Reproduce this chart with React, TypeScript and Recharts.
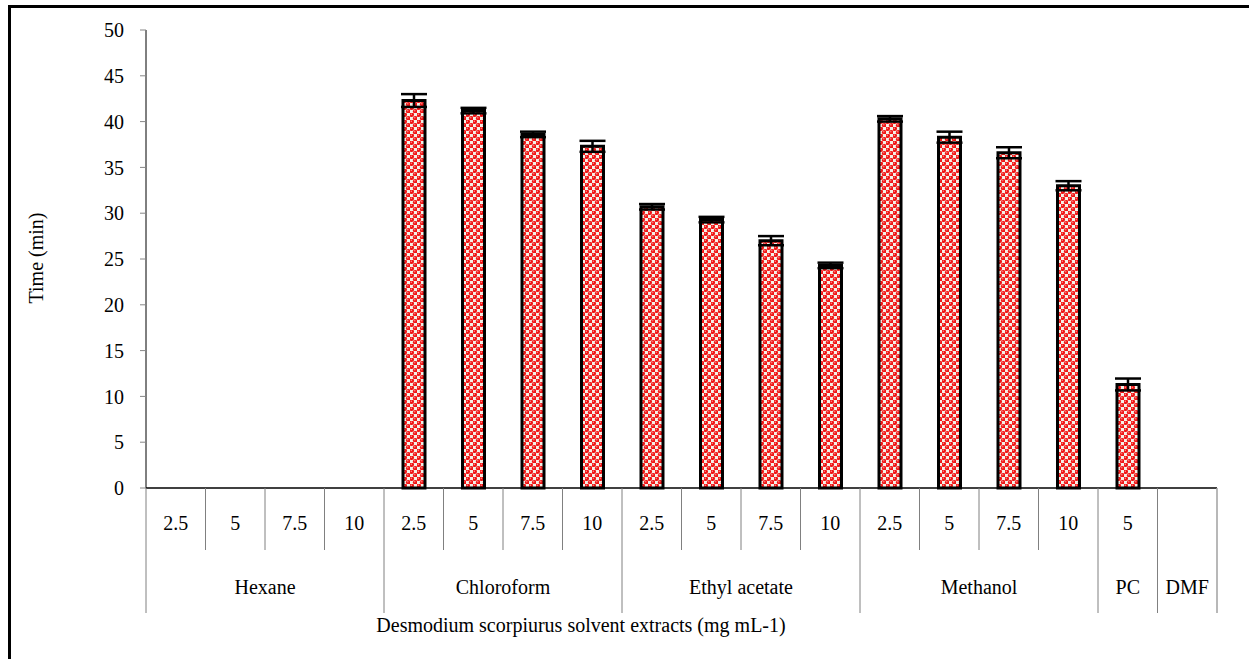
import { BarChart, Bar, XAxis, YAxis, ErrorBar } from "recharts"

const groups = ["Hexane", "Chloroform", "Ethyl acetate", "Methanol", "PC", "DMF"]
const groupSizes = [4, 4, 4, 4, 1, 1]
const concentrations = [
  "2.5", "5", "7.5", "10",
  "2.5", "5", "7.5", "10",
  "2.5", "5", "7.5", "10",
  "2.5", "5", "7.5", "10",
  "5", "",
]
const times = [
  null, null, null, null,
  42.3, 41.2, 38.6, 37.3,
  30.7, 29.3, 27.0, 24.3,
  40.3, 38.3, 36.6, 33.0,
  11.3, null,
]
const errors = [
  null, null, null, null,
  0.7, 0.3, 0.3, 0.6,
  0.3, 0.3, 0.5, 0.3,
  0.3, 0.6, 0.6, 0.5,
  0.65, null,
]
const yTicks = [0, 5, 10, 15, 20, 25, 30, 35, 40, 45, 50]

const data = concentrations.map((c, i) => ({ id: i, conc: c, time: times[i], err: errors[i] }))

const W = 1238
const H = 651
const margin = { top: 22, right: 32, left: 0, bottom: 0 }
const yAxisW = 135
const xAxisH = 171
const plotW = W - margin.right - yAxisW
const band = plotW / concentrations.length

const groupStarts: number[] = []
groupSizes.reduce((acc, s) => {
  groupStarts.push(acc)
  return acc + s
}, 0)

const font = '"Liberation Serif", "Times New Roman", serif'
const fs = 20

function CategoryTick(props: any) {
  const { x, y, payload } = props
  const i = Number(payload.value)
  const left = x - band / 2
  const g = groupStarts.indexOf(i)
  const last = i === concentrations.length - 1
  return (
    <g>
      <line x1={left} x2={left} y1={y} y2={y + (g >= 0 ? 125 : 62)} stroke="#808080" strokeWidth={1} />
      {last && (
        <line x1={left + band} x2={left + band} y1={y} y2={y + 125} stroke="#a0a0a0" strokeWidth={1.5} />
      )}
      <text x={x} y={y + 35} textAnchor="middle" dominantBaseline="central" fontSize={fs} fill="#000">
        {concentrations[i]}
      </text>
      {g >= 0 && (
        <text
          x={left + (groupSizes[g] * band) / 2}
          y={y + 99}
          textAnchor="middle"
          dominantBaseline="central"
          fontSize={fs}
          fill="#000"
        >
          {groups[g]}
        </text>
      )}
    </g>
  )
}

export default function App() {
  return (
    <div
      style={{
        position: "absolute",
        left: 8,
        top: 5,
        width: 1241,
        height: 654,
        borderTop: "3px solid #000",
        borderLeft: "3px solid #000",
        boxSizing: "border-box",
        fontFamily: font,
        background: "#fff",
      }}
    >
      <BarChart width={W} height={H} data={data} margin={margin} barCategoryGap={0}>
        <defs>
          <pattern id="dots" patternUnits="userSpaceOnUse" width={7} height={7}>
            <rect width={7} height={7} fill="#f4f1e8" />
            <circle cx={1.75} cy={1.75} r={2.3} fill="#f01414" />
            <circle cx={5.25} cy={5.25} r={2.3} fill="#f01414" />
            <circle cx={1.3} cy={1.3} r={0.7} fill="#ff9090" />
            <circle cx={4.8} cy={4.8} r={0.7} fill="#ff9090" />
          </pattern>
        </defs>
        <XAxis
          dataKey="id"
          type="category"
          interval={0}
          height={xAxisH}
          tickLine={false}
          tickSize={0}
          tickMargin={0}
          axisLine={{ stroke: "#000", strokeWidth: 1.5 }}
          tick={<CategoryTick />}
          label={() => (
            <text x={570} y={617} textAnchor="middle" dominantBaseline="central" fontSize={fs} fill="#000" fontFamily={font}>
              Desmodium scorpiurus solvent extracts (mg mL-1)
            </text>
          )}
        />
        <YAxis
          width={yAxisW}
          domain={[0, 50]}
          ticks={yTicks}
          interval={0}
          tickSize={6}
          tickMargin={16}
          tickLine={{ stroke: "#868686" }}
          axisLine={{ stroke: "#000" }}
          tick={{ fill: "#000", fontSize: fs, fontFamily: font }}
          label={() => (
            <text
              x={25}
              y={250}
              transform="rotate(-90 25 250)"
              textAnchor="middle"
              dominantBaseline="central"
              fontSize={fs}
              fill="#000"
              fontFamily={font}
            >
              Time (min)
            </text>
          )}
        />
        <Bar
          dataKey="time"
          fill="url(#dots)"
          stroke="#000"
          strokeWidth={3}
          barSize={22}
          isAnimationActive={false}
        >
          <ErrorBar dataKey="err" direction="y" width={13} stroke="#000" strokeWidth={2.5} />
        </Bar>
      </BarChart>
    </div>
  )
}
